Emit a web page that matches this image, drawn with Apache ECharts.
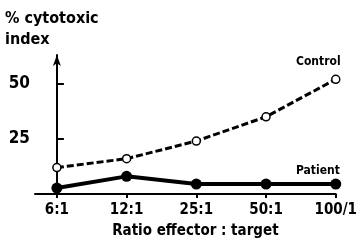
<!DOCTYPE html>
<html>
<head>
<meta charset="utf-8">
<script src="https://cdn.jsdelivr.net/npm/echarts@6/dist/echarts.min.js"></script>
<style>
  html, body { margin: 0; padding: 0; background: #fff; }
  #chart { width: 360px; height: 244px; }
</style>
</head>
<body>
<div id="chart"></div>
<script>
const ratios = ['6:1', '12:1', '25:1', '50:1', '100/1']
const control = [12, 16, 24, 35, 52]
const patient = [2.7, 8, 4.5, 4.5, 4.5]
const yTicks = [25, 50]

const font = '"DejaVu Sans Condensed", "Liberation Sans Narrow", sans-serif'
const idx = ratios.map((r, i) => i)

const chart = echarts.init(document.getElementById('chart'))
chart.setOption({
  animation: false,
  backgroundColor: '#fff',
  grid: { left: 35, right: 23, top: 55, bottom: 48 },
  xAxis: {
    type: 'value',
    min: -0.314,
    max: 4,
    splitLine: { show: false },
    axisLine: { lineStyle: { color: '#000', width: 2 } },
    axisTick: { show: true, customValues: idx, length: 4, lineStyle: { color: '#000', width: 2 } },
    axisLabel: {
      customValues: idx,
      formatter: v => ratios[Math.round(v)],
      color: '#000', fontFamily: font, fontWeight: 'bold', fontSize: 15, margin: 9
    },
    name: 'Ratio effector : target',
    nameLocation: 'middle',
    nameGap: 30,
    nameTextStyle: { color: '#000', fontFamily: font, fontWeight: 'bold', fontSize: 15, padding: [0, 0, 0, 20] }
  },
  yAxis: {
    type: 'value',
    min: 0,
    max: 63,
    splitLine: { show: false },
    axisLine: {
      show: true,
      symbol: ['none', 'arrow'],
      symbolSize: [6, 11],
      lineStyle: { color: '#000', width: 2 }
    },
    axisTick: { show: true, inside: true, customValues: yTicks, length: 7, lineStyle: { color: '#000', width: 2 } },
    axisLabel: {
      customValues: yTicks,
      color: '#000', fontFamily: font, fontWeight: 'bold', fontSize: 17, margin: 5
    }
  },
  graphic: [
    { type: 'text', left: 5, top: 8, style: { text: '% cytotoxic\nindex', fill: '#000', font: 'bold 16px ' + font, lineHeight: 21 } },
    { type: 'text', left: 296, top: 56, style: { text: 'Control', fill: '#000', font: 'bold 12px ' + font } },
    { type: 'text', left: 296, top: 165, style: { text: 'Patient', fill: '#000', font: 'bold 12px ' + font } }
  ],
  series: [
    {
      name: 'Control',
      type: 'line',
      data: idx.map(i => [i, control[i]]),
      symbol: 'circle',
      symbolSize: 8,
      itemStyle: { color: '#fff', borderColor: '#000', borderWidth: 1.5 },
      lineStyle: { color: '#000', width: 3, type: [7, 3] },
      z: 3
    },
    {
      name: 'Patient',
      type: 'line',
      data: idx.map(i => [i, patient[i]]),
      symbol: 'circle',
      symbolSize: 11,
      itemStyle: { color: '#000' },
      lineStyle: { color: '#000', width: 4 }
    }
  ]
})
</script>
</body>
</html>
